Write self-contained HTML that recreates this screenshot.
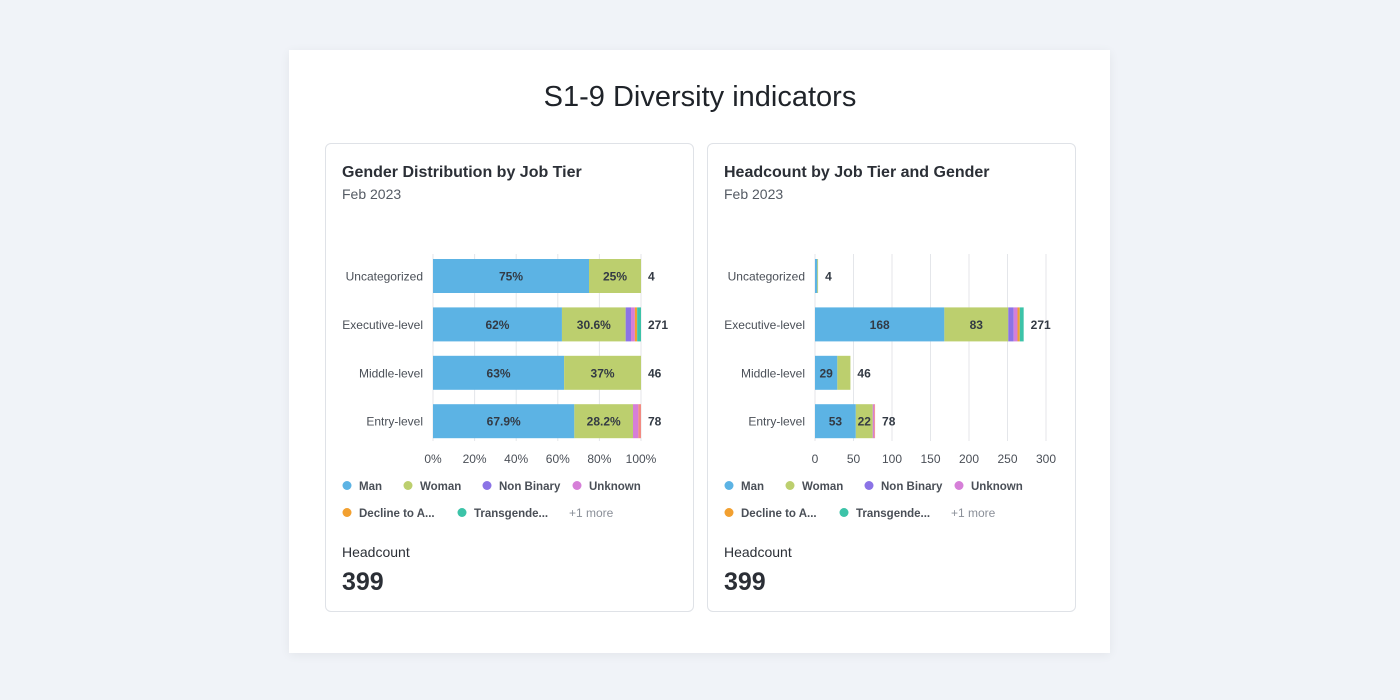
<!DOCTYPE html>
<html><head><meta charset="utf-8">
<style>
body{margin:0;width:1400px;height:700px;background:#f0f3f8;font-family:"Liberation Sans",sans-serif;position:relative;overflow:hidden}
.outer{position:absolute;left:289px;top:50px;width:821px;height:603px;background:#fff;box-shadow:0 2px 10px rgba(0,0,0,0.06)}
.title{position:absolute;left:0;width:100%;top:81px;text-align:center;font-size:29px;color:#1f2329}
.card{position:absolute;top:143px;width:367px;height:467px;border:1px solid #dfe2e7;border-radius:6px;background:#fff}
.ct{position:absolute;left:16px;top:20px;font-size:16px;font-weight:bold;color:#2b2f36}
.cs{position:absolute;left:16px;top:42px;font-size:14px;color:#555b64}
.hl{position:absolute;left:16px;top:400px;font-size:14px;color:#2b2f36}
.hv{position:absolute;left:16px;top:424px;font-size:25px;font-weight:bold;color:#2b2f36}
svg{position:absolute;left:0;top:0}
</style></head><body>
<div class="outer"></div>
<div class="title">S1-9 Diversity indicators</div>
<div class="card" style="left:325px">
<div class="ct">Gender Distribution by Job Tier</div>
<div class="cs">Feb 2023</div>
<svg id="c1" width="367" height="467"></svg>
<div class="hl">Headcount</div>
<div class="hv">399</div>
</div>
<div class="card" style="left:707px">
<div class="ct">Headcount by Job Tier and Gender</div>
<div class="cs">Feb 2023</div>
<svg id="c2" width="367" height="467"></svg>
<div class="hl">Headcount</div>
<div class="hv">399</div>
</div>
<script>
const tiers=["Uncategorized","Executive-level","Middle-level","Entry-level"];
const genders=["Man","Woman","Non Binary","Unknown","Decline to A...","Transgende...","Other"];
const man=[3,168,29,53];
const woman=[1,83,17,22];
const nonBinary=[0,7,0,0];
const unknown=[0,5,0,2];
const decline=[0,3,0,0];
const transgender=[0,5,0,0];
const other=[0,0,0,1];
const pctTicks=[0,20,40,60,80,100];
const cntTicks=[0,50,100,150,200,250,300];
const colors=["#5cb3e4","#bccf6e","#8b73e6","#d67fd8","#f2a030","#3cc3a8","#f28b82"];
const series=[man,woman,nonBinary,unknown,decline,transgender,other];
const NS="http://www.w3.org/2000/svg";
function mk(svg,tag,attrs,text){const e=document.createElementNS(NS,tag);for(const k in attrs)e.setAttribute(k,attrs[k]);if(text!==undefined)e.textContent=text;svg.appendChild(e);return e;}
function draw(id,pct){
  const svg=document.getElementById(id);
  const x0=107,x1=pct?315:338;const max=pct?100:300;const ticks=pct?pctTicks:cntTicks;
  const sx=v=>x0+(x1-x0)*v/max;
  const y0=115,pitch=48.4,bh=34;
  ticks.forEach(t=>{const l=mk(svg,'line',{x1:sx(t),x2:sx(t),y1:110,y2:297,stroke:'#e4e6ea'});
    
    
    const tx=mk(svg,'text',{x:sx(t),y:319,'text-anchor':'middle','font-size':12,fill:'#4a4f57'},pct?t+'%':t);
    
    });
  tiers.forEach((tier,i)=>{
    const y=y0+i*pitch;
    let total=0;series.forEach(s=>total+=s[i]);
    const lb=mk(svg,'text',{x:x0-10,y:y+bh/2+4.5,'text-anchor':'end','font-size':12,fill:'#4a4f57'},tier);
    
    
    let acc=0;
    series.forEach((s,g)=>{const v=pct?s[i]/total*100:s[i];if(!v)return;
      const r=mk(svg,'rect',{x:sx(acc),y:y,width:sx(acc+v)-sx(acc),height:bh,fill:colors[g]});
      
      
      const w=sx(acc+v)-sx(acc);
      if(g<2&&w>14){const lab=pct?(Math.round(v*10)/10)+'%':s[i];
        const t=mk(svg,'text',{x:sx(acc)+w/2,y:y+bh/2+4.5,'text-anchor':'middle','font-size':12,'font-weight':'bold',fill:'#333a44'},lab);
        
        }
      acc+=v;});
    const endX=pct?x1:sx(total);
    const tl=mk(svg,'text',{x:endX+7,y:y+bh/2+4.5,'font-size':12,'font-weight':'bold',fill:'#333a44'},total);
    
    
  });
  const leg=[[0,16,346],[1,77,346],[2,156,346],[3,246,346],[4,16,373],[5,131,373]];
  leg.forEach(([g,x,y])=>{const c=mk(svg,'circle',{cx:x+5,cy:y-4.5,r:4.5,fill:colors[g]});
    
    
    const t=mk(svg,'text',{x:x+17,y:y,'font-size':11.5,'font-weight':'bold',fill:'#4a4f57'},genders[g]);
    
    });
  const m=mk(svg,'text',{x:243,y:373,'font-size':12,fill:'#8a8f98'},'+1 more');
  
  
}
draw('c1',true);draw('c2',false);
</script>
</body></html>
